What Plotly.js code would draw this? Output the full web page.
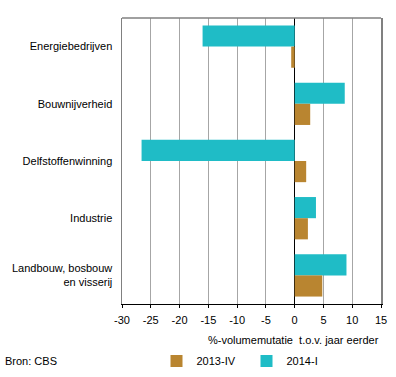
<!DOCTYPE html>
<html>
<head>
<meta charset="utf-8">
<script src="https://cdn.plot.ly/plotly-3.0.1.min.js"></script>
<style>html,body{margin:0;padding:0;background:#fff;}#chart{width:396px;height:377px;}</style>
</head>
<body>
<div id="chart"></div>
<script>
const categories = ["Energiebedrijven", "Bouwnijverheid", "Delfstoffenwinning", "Industrie", "Landbouw, bosbouw<br>en visserij"];
const series2013IV = [-0.6, 2.7, 2.0, 2.3, 4.8];
const series2014I = [-16.0, 8.7, -26.6, 3.7, 9.0];
const seriesNames = ["2013-IV", "2014-I"];
const xTicks = [-30, -25, -20, -15, -10, -5, 0, 5, 10, 15];

const font = {family: "Liberation Sans, Arial, sans-serif", size: 11, color: "#000"};

const traces = [
  {type: "bar", orientation: "h", name: seriesNames[1], y: categories, x: series2014I,
   marker: {color: "#1FBCC6"}, legendrank: 2},
  {type: "bar", orientation: "h", name: seriesNames[0], y: categories, x: series2013IV,
   marker: {color: "#B98530"}, legendrank: 1}
];

const layout = {
  width: 396, height: 377,
  margin: {l: 121.5, r: 14.5, t: 18, b: 73},
  paper_bgcolor: "#fff", plot_bgcolor: "#fff",
  font: font,
  barmode: "group", bargap: 0.26, bargroupgap: 0,
  showlegend: true,
  legend: {orientation: "h", xref: "container", yref: "container",
           x: 156.5 / 396, xanchor: "left", y: 16 / 377, yanchor: "middle",
           font: font, traceorder: "normal", itemwidth: 30, entrywidth: 45, entrywidthmode: "pixels"},
  xaxis: {range: [-30, 15], tickvals: xTicks, ticktext: xTicks.map(String),
          showgrid: true, gridcolor: "#A6A6A6", gridwidth: 1,
          zeroline: true, zerolinecolor: "#000", zerolinewidth: 1.5,
          showline: true, linecolor: "#000", linewidth: 1,
          ticks: "outside", ticklen: 3, tickcolor: "#000", ticklabelstandoff: 3,
          tickfont: font, fixedrange: true, automargin: false},
  yaxis: {type: "category", categoryorder: "array", categoryarray: categories, autorange: "reversed",
          showgrid: false, zeroline: false, showline: true, linecolor: "#808080", linewidth: 1.5,
          mirror: true, ticks: "", ticklabelstandoff: 6, tickfont: font, fixedrange: true, automargin: false},
  shapes: [{type: "line", xref: "paper", yref: "paper", x0: 0, x1: 1, y0: 1, y1: 1,
            line: {color: "#808080", width: 1.5}}],
  annotations: [
    {text: "%-volumemutatie  t.o.v. jaar eerder", xref: "paper", yref: "paper", x: 1, y: -36 / 286,
     xanchor: "right", yanchor: "middle", showarrow: false, font: font},
    {text: "Bron: CBS", xref: "paper", yref: "paper", x: -119 / 260, y: -57 / 286,
     xanchor: "left", yanchor: "middle", showarrow: false, font: font}
  ]
};

Plotly.newPlot("chart", traces, layout, {displayModeBar: false, staticPlot: true});
</script>
</body>
</html>
